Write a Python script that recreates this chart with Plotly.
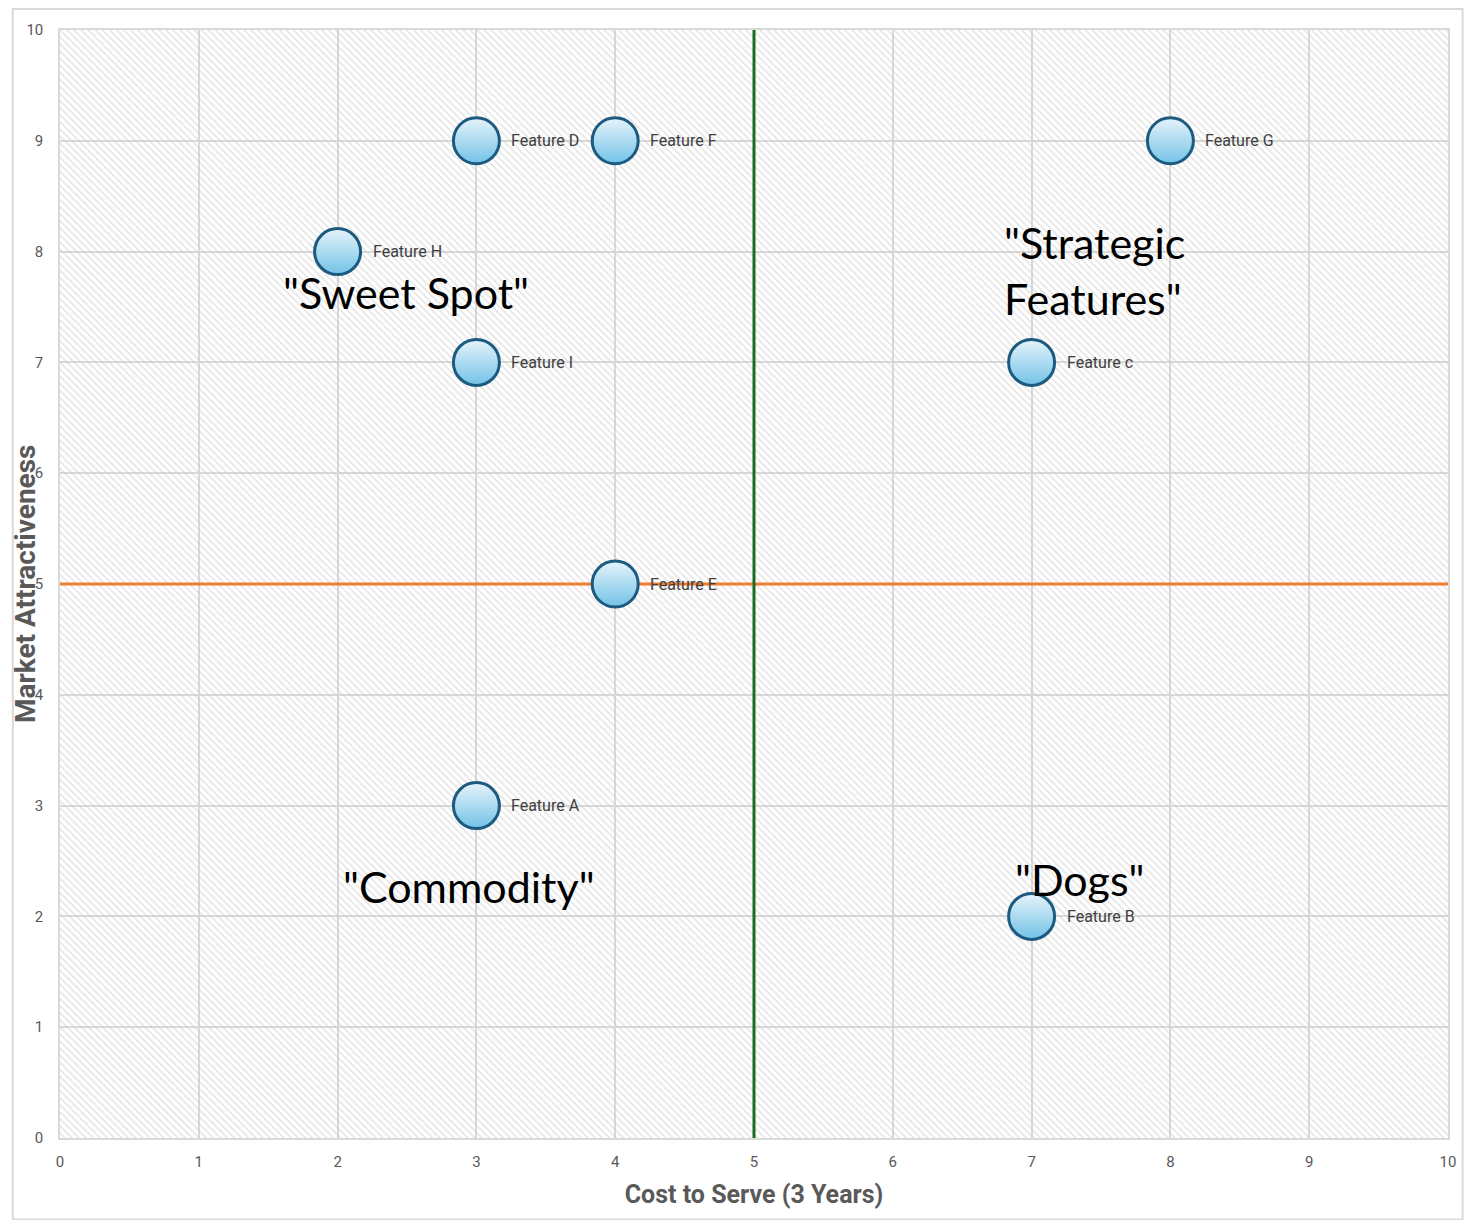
import plotly.graph_objects as go

# features: cost to serve (x) vs market attractiveness (y)
features = ["Feature A", "Feature B", "Feature c", "Feature D", "Feature E",
            "Feature F", "Feature G", "Feature H", "Feature I"]
cost = [3, 7, 7, 3, 4, 4, 8, 2, 3]
attract = [3, 2, 7, 9, 5, 9, 9, 8, 7]

# quadrant labels
quad_text = ['"Sweet Spot"', '"Strategic<br>Features"', '"Commodity"', '"Dogs"']
quad_x = [2.49, 7.45, 2.95, 7.35]
quad_y = [7.63, 7.83, 2.27, 2.33]

# divider lines
split_x = 5
split_y = 5
axis_min, axis_max = 0, 10

fig = go.Figure()

# hatched background of the plot area
fig.add_trace(go.Scatter(
    x=[axis_min, axis_max, axis_max, axis_min, axis_min],
    y=[axis_min, axis_min, axis_max, axis_max, axis_min],
    mode="none", fill="toself", fillcolor="rgba(0,0,0,0)",
    fillpattern=dict(shape="\\", fgcolor="#c9c9c9", bgcolor="rgba(0,0,0,0)",
                     size=5, solidity=0.3),
    hoverinfo="skip", showlegend=False,
))

# quadrant dividers
fig.add_trace(go.Scatter(
    x=[axis_min, axis_max], y=[split_y, split_y], mode="lines",
    line=dict(color="#ed7d31", width=3), showlegend=False, hoverinfo="skip",
))
fig.add_trace(go.Scatter(
    x=[split_x, split_x], y=[axis_min, axis_max], mode="lines",
    line=dict(color="#1e6b23", width=3), showlegend=False, hoverinfo="skip",
))

# bubbles
fig.add_trace(go.Scatter(
    x=cost, y=attract, mode="markers", text=features,
    marker=dict(size=46, color="#e6f4fb",
                gradient=dict(type="vertical", color="#72c2e6"),
                line=dict(color="#1c5a80", width=3)),
    showlegend=False,
))

for name, cx, cy in zip(features, cost, attract):
    fig.add_annotation(x=cx, y=cy, text=name, showarrow=False,
                       xanchor="left", xshift=33,
                       font=dict(family="Roboto", size=16, color="#404040"))

for t, qx, qy in zip(quad_text, quad_x, quad_y):
    fig.add_annotation(x=qx, y=qy, text=t, showarrow=False, align="left",
                       font=dict(family="Lato", size=43, color="#000000"))

# y axis title placed by hand so it can sit over the tick label column
fig.add_annotation(x=0, y=0.5, xref="paper", yref="paper", xshift=-35,
                   text="<b>Market Attractiveness</b>", textangle=-90,
                   showarrow=False, xanchor="center", yanchor="middle",
                   font=dict(family="Roboto", size=28, color="#595959"))

axis_style = dict(
    range=[axis_min, axis_max], dtick=1, showgrid=True, gridcolor="#d9d9d9",
    gridwidth=1.5, zeroline=False, showline=True, linecolor="#d9d9d9",
    linewidth=1.5, mirror=True, tickfont=dict(family="Roboto", size=15, color="#595959"),
    ticks="", fixedrange=True, automargin=False,
)

fig.update_layout(
    width=1456, height=1212,
    margin=dict(l=52, r=16, t=22, b=82),
    paper_bgcolor="white", plot_bgcolor="white",
    font=dict(family="Roboto"),
    xaxis=dict(**axis_style, ticklabelstandoff=9,
               title=dict(text="<b>Cost to Serve (3 Years)</b>", standoff=16,
                          font=dict(family="Roboto", size=25, color="#595959"))),
    yaxis=dict(**axis_style, ticklabelstandoff=12),
    shapes=[dict(type="rect", xref="paper", yref="paper", x0=-0.034, x1=1.0105,
                 y0=-0.0735, y1=1.019, line=dict(color="#d9d9d9", width=2))],
)

fig.write_html("out.html")
